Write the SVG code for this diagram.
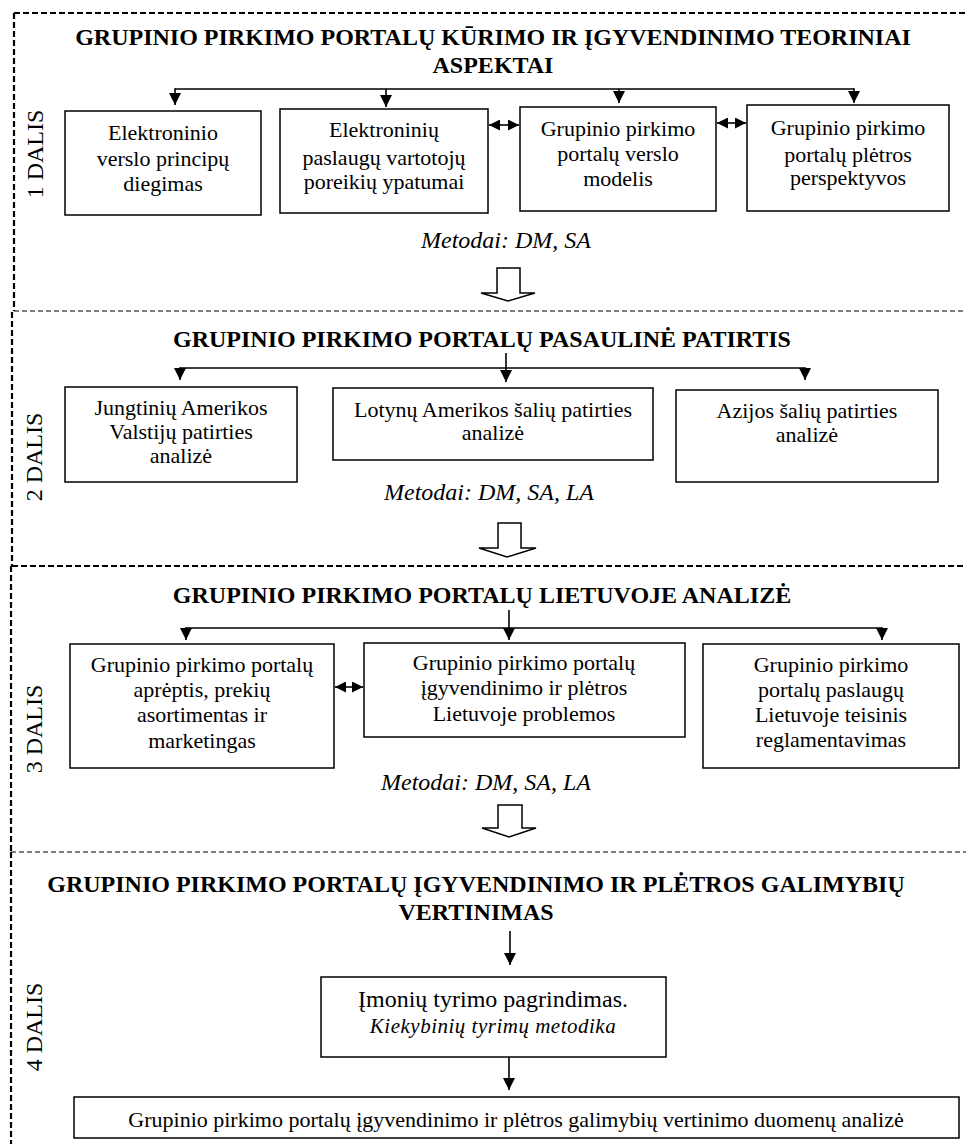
<svg xmlns="http://www.w3.org/2000/svg" width="966" height="1144" viewBox="0 0 966 1144">
<style>
text{font-family:"Liberation Serif","Times New Roman",serif;fill:#000}
.t{font-size:24px;font-weight:bold;text-anchor:middle}
.b{font-size:22px;text-anchor:middle}
.m{font-size:24px;font-style:italic;text-anchor:middle}
.d{font-size:24px;text-anchor:middle}
.box{fill:#fff;stroke:#000;stroke-width:1.5}
.thick{fill:none;stroke:#000;stroke-width:2.2;stroke-dasharray:6 3}
.thin{fill:none;stroke:#000;stroke-width:1.1;stroke-dasharray:5 3}
.c{fill:none;stroke:#000;stroke-width:1.6}
.ba{fill:#fff;stroke:#000;stroke-width:1.5}
</style>
<defs>
<marker id="ah" viewBox="0 0 10 10" refX="10" refY="5" markerWidth="12" markerHeight="12" markerUnits="userSpaceOnUse" orient="auto"><path d="M0,0 L10,5 L0,10 Z" fill="#000"/></marker>
<marker id="dh" viewBox="0 0 10 10" refX="10" refY="5" markerWidth="11" markerHeight="11" markerUnits="userSpaceOnUse" orient="auto-start-reverse"><path d="M0,0 L10,5 L0,10 Z" fill="#000"/></marker>
</defs>
<rect width="966" height="1144" fill="#fff"/>
<g id="frames">
<line class="thick" x1="14" y1="13" x2="966" y2="13"/>
<line class="thick" x1="14" y1="13" x2="14" y2="311"/>
<line class="thin" x1="14" y1="311" x2="966" y2="311"/>
<line class="thick" x1="12" y1="312" x2="12" y2="566"/>
<line class="thick" x1="12" y1="566" x2="966" y2="566"/>
<line class="thick" x1="11" y1="566" x2="11" y2="852"/>
<line class="thin" x1="11" y1="852" x2="966" y2="852"/>
<line class="thick" x1="11" y1="852" x2="11" y2="1144"/>
</g>
<g id="labels">
<text class="d" transform="translate(43,154) rotate(-90)">1 DALIS</text>
<text class="d" transform="translate(42,457) rotate(-90)">2 DALIS</text>
<text class="d" transform="translate(42,729) rotate(-90)">3 DALIS</text>
<text class="d" transform="translate(42,1027) rotate(-90)">4 DALIS</text>
</g>
<g id="title1"><text class="t" x="493" y="45">GRUPINIO PIRKIMO PORTALŲ KŪRIMO IR ĮGYVENDINIMO TEORINIAI</text><text class="t" x="493" y="73">ASPEKTAI</text></g>
<g id="n1a"><rect class="box" x="65" y="111" width="196" height="104"/><text class="b" x="163" y="140">Elektroninio</text><text class="b" x="163" y="166">verslo principų</text><text class="b" x="163" y="191">diegimas</text></g>
<g id="n1b"><rect class="box" x="280" y="109" width="208" height="104"/><text class="b" x="384" y="137">Elektroninių</text><text class="b" x="384" y="165">paslaugų vartotojų</text><text class="b" x="384" y="189">poreikių ypatumai</text></g>
<g id="n1c"><rect class="box" x="520" y="107" width="196" height="104"/><text class="b" x="618" y="136">Grupinio pirkimo</text><text class="b" x="618" y="161">portalų verslo</text><text class="b" x="618" y="186">modelis</text></g>
<g id="n1d"><rect class="box" x="747" y="105" width="202" height="106"/><text class="b" x="848" y="135">Grupinio pirkimo</text><text class="b" x="848" y="162">portalų plėtros</text><text class="b" x="848" y="185">perspektyvos</text></g>
<text class="m" x="506" y="248">Metodai: DM, SA</text>
<g id="title2"><text class="t" x="482" y="347">GRUPINIO PIRKIMO PORTALŲ PASAULINĖ PATIRTIS</text></g>
<g id="n2a"><rect class="box" x="65" y="387" width="232" height="95"/><text class="b" x="181" y="415">Jungtinių Amerikos</text><text class="b" x="181" y="439">Valstijų patirties</text><text class="b" x="181" y="463">analizė</text></g>
<g id="n2b"><rect class="box" x="333" y="388" width="320" height="72"/><text class="b" x="493" y="417">Lotynų Amerikos šalių patirties</text><text class="b" x="493" y="440">analizė</text></g>
<g id="n2c"><rect class="box" x="676" y="390" width="262" height="92"/><text class="b" x="807" y="418">Azijos šalių patirties</text><text class="b" x="807" y="442">analizė</text></g>
<text class="m" x="489" y="500">Metodai: DM, SA, LA</text>
<g id="title3"><text class="t" x="482" y="603">GRUPINIO PIRKIMO PORTALŲ LIETUVOJE ANALIZĖ</text></g>
<g id="n3a"><rect class="box" x="70" y="644" width="264" height="124"/><text class="b" x="202" y="672">Grupinio pirkimo portalų</text><text class="b" x="202" y="697">aprėptis, prekių</text><text class="b" x="202" y="722">asortimentas ir</text><text class="b" x="202" y="748">marketingas</text></g>
<g id="n3b"><rect class="box" x="364" y="643" width="321" height="94"/><text class="b" x="524" y="670">Grupinio pirkimo portalų</text><text class="b" x="524" y="695">įgyvendinimo ir plėtros</text><text class="b" x="524" y="721">Lietuvoje problemos</text></g>
<g id="n3c"><rect class="box" x="703" y="644" width="256" height="124"/><text class="b" x="831" y="672">Grupinio pirkimo</text><text class="b" x="831" y="697">portalų paslaugų</text><text class="b" x="831" y="722">Lietuvoje teisinis</text><text class="b" x="831" y="747">reglamentavimas</text></g>
<text class="m" x="486" y="790">Metodai: DM, SA, LA</text>
<g id="title4"><text class="t" x="476" y="892">GRUPINIO PIRKIMO PORTALŲ ĮGYVENDINIMO IR PLĖTROS GALIMYBIŲ</text><text class="t" x="476" y="920">VERTINIMAS</text></g>
<g id="n4a"><rect class="box" x="321" y="977" width="345" height="80"/><text x="493" y="1007" style="font-size:24px;text-anchor:middle">Įmonių tyrimo pagrindimas.</text><text x="493" y="1033" style="font-size:21px;font-style:italic;text-anchor:middle;letter-spacing:0.5px">Kiekybinių tyrimų metodika</text></g>
<g id="n4b"><rect class="box" x="74" y="1097" width="885" height="41"/><text class="b" x="516" y="1127">Grupinio pirkimo portalų įgyvendinimo ir plėtros galimybių vertinimo duomenų analizė</text></g>
<g id="connectors">
<line class="c" x1="175" y1="89" x2="854" y2="89"/>
<line class="c" x1="175" y1="88.2" x2="175" y2="105" marker-end="url(#ah)"/>
<line class="c" x1="386" y1="89" x2="386" y2="107" marker-end="url(#ah)"/>
<line class="c" x1="619" y1="89" x2="619" y2="103" marker-end="url(#ah)"/>
<line class="c" x1="854" y1="88.2" x2="854" y2="103" marker-end="url(#ah)"/>
<line class="c" x1="489" y1="125" x2="519" y2="125" marker-start="url(#dh)" marker-end="url(#dh)"/>
<line class="c" x1="717" y1="123" x2="746" y2="123" marker-start="url(#dh)" marker-end="url(#dh)"/>
<path class="ba" d="M497,268 L520,268 L520,293 L535,293 L508,301 L481,293 L497,293 Z"/>
<line class="c" x1="180" y1="368" x2="805" y2="368"/>
<line class="c" x1="506" y1="353" x2="506" y2="382" marker-end="url(#ah)"/>
<line class="c" x1="180" y1="367.2" x2="180" y2="380" marker-end="url(#ah)"/>
<line class="c" x1="805" y1="367.2" x2="805" y2="380" marker-end="url(#ah)"/>
<path class="ba" d="M498,523 L521,523 L521,548 L536,548 L507,557 L479,548 L498,548 Z"/>
<line class="c" x1="186" y1="628" x2="882" y2="628"/>
<line class="c" x1="509" y1="610" x2="509" y2="640" marker-end="url(#ah)"/>
<line class="c" x1="186" y1="627.2" x2="186" y2="640" marker-end="url(#ah)"/>
<line class="c" x1="882" y1="627.2" x2="882" y2="640" marker-end="url(#ah)"/>
<line class="c" x1="335" y1="687" x2="363" y2="687" marker-start="url(#dh)" marker-end="url(#dh)"/>
<path class="ba" d="M498,805 L522,805 L522,828 L536,828 L509,837 L482,828 L498,828 Z"/>
<line class="c" x1="510" y1="931" x2="510" y2="965" marker-end="url(#ah)"/>
<line class="c" x1="509" y1="1057" x2="509" y2="1090" marker-end="url(#ah)"/>
</g>
</svg>
